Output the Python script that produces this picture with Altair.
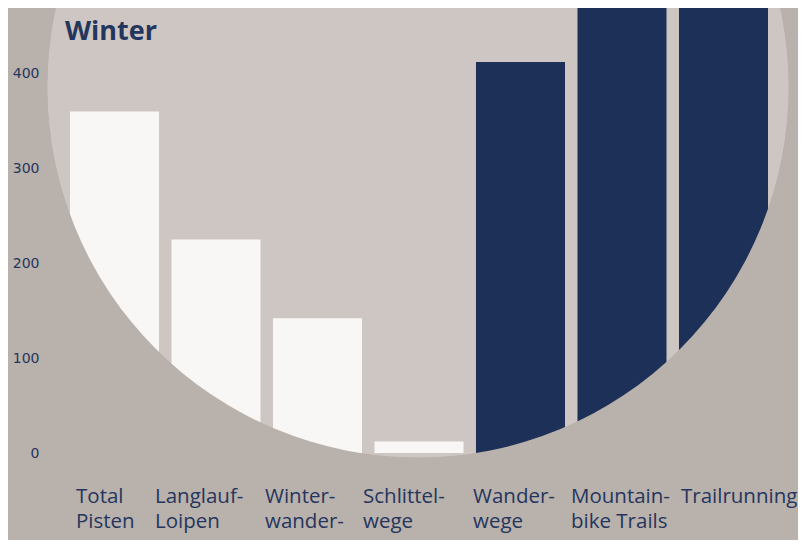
import altair as alt
import pandas as pd

# ---- data ----
categories = ["Total|Pisten", "Langlauf-|Loipen", "Winter-|wander-|wege", "Schlittel-|wege",
              "Wander-|wege", "Mountain-|bike Trails", "Trailrunning"]
values = [360, 225, 142, 12, 412, 520, 560]
groups = ["Winter", "Winter", "Winter", "Winter", "Sommer", "Sommer", "Sommer"]
y_ticks = [0, 100, 200, 300, 400]
title_text = ["Winter"]

df = pd.DataFrame({"cat": categories, "val": values, "grp": groups})
one = pd.DataFrame({"t": title_text})

# ---- style ----
W, H = 742, 445
BG = "#b9b1ab"
CIRCLE = "#cec6c2"
WHITE = "#f8f7f5"
NAVY = "#1d3057"
TEXT = "#25365e"
CX, CY, R = 370, 79, 370.5
TWO_PI = 6.2832
# per-label horizontal nudges (pixels) of the left-aligned x labels
label_nudge = [-38.5, -61, -52.5, -56, -47.5, -51, -42.5]
offset_expr = "[" + ",".join(str(v) for v in label_nudge) + "][indexof([" + \
    ",".join("'" + c + "'" for c in categories) + "], datum.value)]"

base = alt.Chart(one)

circle = base.mark_arc(theta=0, theta2=TWO_PI, innerRadius=0, outerRadius=R + 0.5,
                       color=CIRCLE).encode(x=alt.value(CX), y=alt.value(CY))

bars = alt.Chart(df).mark_bar(clip=True).encode(
    x=alt.X("cat:N", sort=None,
            scale=alt.Scale(paddingInner=0.123, paddingOuter=0.2167),
            axis=alt.Axis(title=None, domain=False, ticks=False, tickSize=0, labelAngle=0,
                          labelExpr="split(datum.label, '|')", labelFont="Open Sans",
                          labelFontSize=20.5, labelColor=TEXT, labelLineHeight=25.5,
                          labelAlign="left", labelBaseline="top",
                          labelOffset={"expr": offset_expr},
                          labelPadding=33, labelOverlap=False, labelLimit=0, zindex=1)),
    y=alt.Y("val:Q",
            scale=alt.Scale(domain=[0, 469], nice=False, zero=True),
            axis=alt.Axis(title=None, values=y_ticks, domain=False, ticks=False, tickSize=0,
                          grid=False, labelFont="DejaVu Sans", labelFontSize=14,
                          labelColor=TEXT, labelPadding=9, zindex=1)),
    color=alt.Color("grp:N", scale=alt.Scale(domain=["Winter", "Sommer"], range=[WHITE, NAVY]),
                    legend=None),
)

mask = base.mark_arc(theta=0, theta2=TWO_PI, innerRadius=R, outerRadius=1400,
                     color=BG).encode(x=alt.value(CX), y=alt.value(CY))

title = base.mark_text(align="left", baseline="alphabetic", font="Open Sans", fontSize=27,
                       fontWeight="bold", color=TEXT).encode(
    text="t:N", x=alt.value(17), y=alt.value(31.5))

chart = alt.layer(circle, bars, mask, title).properties(
    width=W, height=H,
    padding={"left": 40, "top": 0, "right": 8, "bottom": 87},
    autosize=alt.AutoSizeParams(type="none"),
    background=BG,
).configure_view(stroke=None)

chart.save("out.html", embed_options={"renderer": "svg", "actions": False})
